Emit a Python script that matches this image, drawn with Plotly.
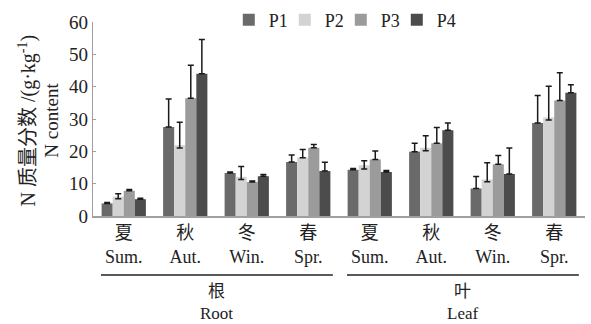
import plotly.graph_objects as go

seasons = ["夏<br>Sum.", "秋<br>Aut.", "冬<br>Win.", "春<br>Spr."]
organs = ["根", "叶"]
organs_en = ["Root", "Leaf"]
tick_labels = seasons + seasons
series = ["P1", "P2", "P3", "P4"]

p1 = [3.9, 27.5, 13.3, 16.7, 14.3, 19.9, 8.5, 28.8]
p2 = [6.0, 21.9, 12.1, 18.1, 15.7, 21.1, 11.3, 30.5]
p3 = [7.8, 36.4, 10.5, 21.1, 17.5, 22.5, 16.0, 35.7]
p4 = [5.2, 44.0, 12.3, 13.9, 13.6, 26.5, 13.0, 38.1]

p1_err = [0.3, 8.7, 0.3, 2.2, 0.4, 2.6, 3.7, 8.5]
p2_err = [0.9, 7.1, 3.2, 2.5, 1.4, 3.7, 5.2, 9.6]
p3_err = [0.4, 10.2, 0.3, 1.0, 2.6, 4.9, 2.7, 8.6]
p4_err = [0.3, 10.6, 0.5, 2.7, 0.5, 2.3, 8.0, 2.5]

p1_err_lo = [0, 0, 0, 0, 0, 0, 0, 0]
p2_err_lo = [0.7, 0.9, 0.8, 0.1, 1.2, 0.9, 0.7, 0.8]
p3_err_lo = [0, 0, 0, 0, 0, 0, 0, 0]
p4_err_lo = [0, 0, 0, 0, 0, 0, 0, 0]

colors = ["#6a6a6a", "#d3d3d3", "#9b9b9b", "#4c4c4c"]

FONT = "Liberation Serif, Noto Sans CJK SC, serif"
TXT = "#222222"

x = list(range(len(tick_labels)))
fig = go.Figure()
for name, vals, eu, ed, c in zip(series, [p1, p2, p3, p4],
                                 [p1_err, p2_err, p3_err, p4_err],
                                 [p1_err_lo, p2_err_lo, p3_err_lo, p4_err_lo], colors):
    fig.add_trace(go.Bar(
        x=x, y=vals, name=name, marker=dict(color=c, line=dict(width=0)),
        error_y=dict(type="data", array=eu, arrayminus=ed, symmetric=False,
                     color="#1a1a1a", thickness=1.5, width=3),
    ))

# empty spacer entry so the last legend label is not clipped
fig.add_trace(go.Scatter(x=[None], y=[None], mode="markers", name=" ",
                         marker=dict(color="rgba(0,0,0,0)", size=1,
                                     line=dict(width=0, color="rgba(0,0,0,0)")),
                         hoverinfo="skip"))

fig.update_layout(
    width=591, height=324,
    margin=dict(l=93, r=6, t=22, b=108, autoexpand=False),
    paper_bgcolor="white", plot_bgcolor="white",
    barmode="group", bargap=0.28, bargroupgap=0,
    font=dict(family=FONT, size=18, color=TXT),
    showlegend=True,
    legend=dict(orientation="h", x=0.276, xanchor="left", y=1.01, yanchor="middle",
                font=dict(size=18, family=FONT, color=TXT),
                entrywidth=11, entrywidthmode="pixels", itemwidth=30,
                bgcolor="rgba(0,0,0,0)", tracegroupgap=0),
    xaxis=dict(
        tickmode="array", tickvals=x, ticktext=tick_labels,
        range=[-0.5, len(x) - 0.5], showline=True, linecolor="#a0a0a0", linewidth=1.5,
        ticks="", showgrid=False, zeroline=False,
        tickfont=dict(size=18, family=FONT, color=TXT),
    ),
    yaxis=dict(
        range=[0, 60], tickvals=[0, 10, 20, 30, 40, 50, 60],
        showline=True, linecolor="#a0a0a0", linewidth=1.2,
        ticks="inside", ticklen=3, tickcolor="#a0a0a0",
        showgrid=False, zeroline=False,
        tickfont=dict(size=19, family=FONT, color=TXT),
    ),
)

# group brackets and labels
n_season = len(seasons)
for gi, (zh, en) in enumerate(zip(organs, organs_en)):
    x0 = gi * n_season - 0.37
    x1 = gi * n_season + n_season - 1 + 0.40
    xc = gi * n_season + (n_season - 1) / 2
    fig.add_shape(type="line", xref="x", yref="paper", x0=x0, x1=x1, y0=-0.304, y1=-0.304,
                  line=dict(color="#222222", width=1.5))
    fig.add_annotation(x=xc, xref="x", y=-0.445, yref="paper", text=zh + "<br>" + en,
                       showarrow=False, yanchor="middle",
                       font=dict(size=17, family=FONT, color=TXT))

# y-axis title (two lines)
fig.add_annotation(x=-0.133, xref="paper", y=0.49, yref="paper",
                   text="N 质量分数 /(g·kg<sup>-1</sup>)", textangle=-90, showarrow=False,
                   xanchor="center", yanchor="middle", font=dict(size=20, family=FONT, color=TXT))
fig.add_annotation(x=-0.084, xref="paper", y=0.495, yref="paper",
                   text="N content", textangle=-90, showarrow=False,
                   xanchor="center", yanchor="middle", font=dict(size=19, family=FONT, color=TXT))

fig.write_html("out.html")
